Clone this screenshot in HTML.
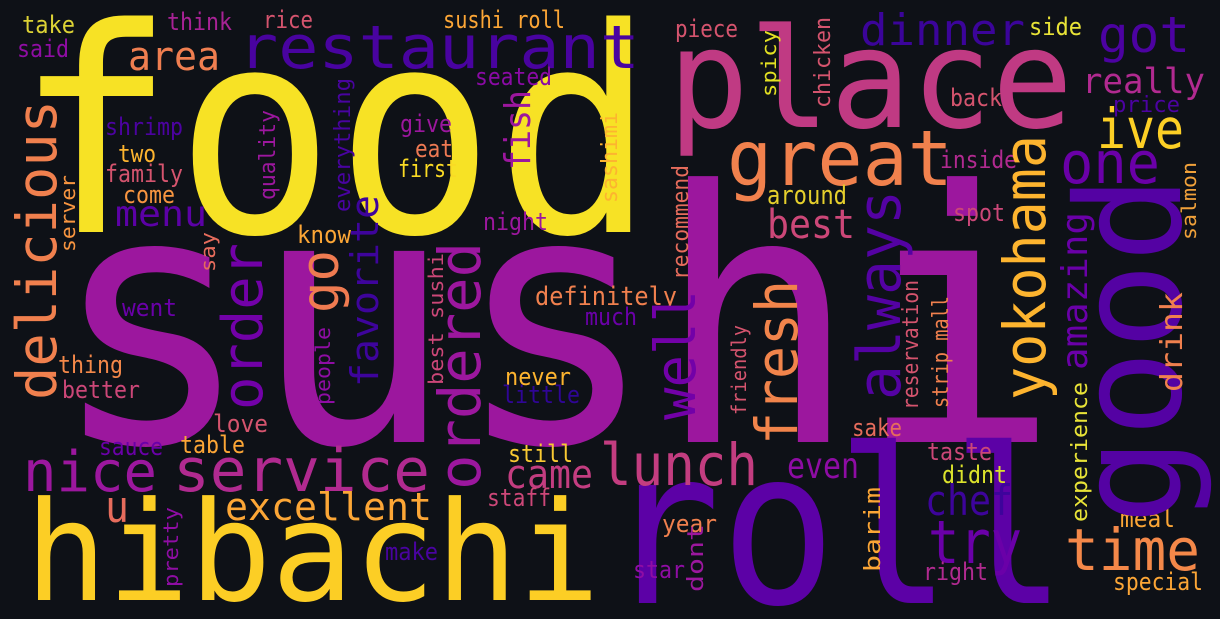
<!DOCTYPE html>
<html><head><meta charset="utf-8"><style>
html,body{margin:0;padding:0;background:#0e1117;width:1220px;height:619px;overflow:hidden;}
svg{display:block;}
text{font-family:"DejaVu Sans Mono","Liberation Mono",monospace;}
</style></head><body>
<svg width="1220" height="619" viewBox="0 0 1220 619" xmlns="http://www.w3.org/2000/svg">
<rect width="1220" height="619" fill="#0e1117"/>
<g>
<text x="15" y="232" font-size="285" textLength="640" lengthAdjust="spacingAndGlyphs" fill="#f7e225">food</text>
<text x="50" y="442" font-size="350" textLength="1010" lengthAdjust="spacingAndGlyphs" fill="#9c179e">sushi</text>
<text x="605" y="603" font-size="216" textLength="462" lengthAdjust="spacingAndGlyphs" fill="#5c01a6">roll</text>
<text x="668" y="127" font-size="138" textLength="405" lengthAdjust="spacingAndGlyphs" fill="#c03a83">place</text>
<text x="25" y="600" font-size="138" textLength="575" lengthAdjust="spacingAndGlyphs" fill="#fcce25">hibachi</text>
<text x="238" y="68" font-size="60" textLength="402" lengthAdjust="spacingAndGlyphs" fill="#4903a0">restaurant</text>
<text x="727" y="185" font-size="77" textLength="226" lengthAdjust="spacingAndGlyphs" fill="#f1814d">great</text>
<text x="23" y="491" font-size="56" textLength="134" lengthAdjust="spacingAndGlyphs" fill="#9c179e">nice</text>
<text x="173" y="491" font-size="60" textLength="257" lengthAdjust="spacingAndGlyphs" fill="#b12a90">service</text>
<text x="600" y="485" font-size="58" textLength="158" lengthAdjust="spacingAndGlyphs" fill="#c33d80">lunch</text>
<text x="1065" y="570" font-size="58" textLength="135" lengthAdjust="spacingAndGlyphs" fill="#f48849">time</text>
<text x="225" y="520" font-size="38" textLength="207" lengthAdjust="spacingAndGlyphs" fill="#fca636">excellent</text>
<text x="105" y="522" font-size="44" textLength="24" lengthAdjust="spacingAndGlyphs" fill="#e66c5c">u</text>
<text x="505" y="488" font-size="40" textLength="88" lengthAdjust="spacingAndGlyphs" fill="#c33d80">came</text>
<text x="787" y="478" font-size="36" textLength="72" lengthAdjust="spacingAndGlyphs" fill="#8e0ca4">even</text>
<text x="925" y="515" font-size="42" textLength="88" lengthAdjust="spacingAndGlyphs" fill="#3d049b">chef</text>
<text x="928" y="563" font-size="60" textLength="94" lengthAdjust="spacingAndGlyphs" fill="#6a00a8">try</text>
<text x="1097" y="148" font-size="55" textLength="87" lengthAdjust="spacingAndGlyphs" fill="#fccf25">ive</text>
<text x="1060" y="183" font-size="58" textLength="100" lengthAdjust="spacingAndGlyphs" fill="#6a00a8">one</text>
<text x="1098" y="52" font-size="50" textLength="92" lengthAdjust="spacingAndGlyphs" fill="#4c02a1">got</text>
<text x="1082" y="93" font-size="35" textLength="123" lengthAdjust="spacingAndGlyphs" fill="#b12a90">really</text>
<text x="1113" y="112" font-size="22" textLength="67" lengthAdjust="spacingAndGlyphs" fill="#4c02a1">price</text>
<text x="860" y="45" font-size="44" textLength="165" lengthAdjust="spacingAndGlyphs" fill="#3b049a">dinner</text>
<text x="128" y="70" font-size="40" textLength="92" lengthAdjust="spacingAndGlyphs" fill="#ef7e50">area</text>
<text x="115" y="226" font-size="36" textLength="92" lengthAdjust="spacingAndGlyphs" fill="#5c01a6">menu</text>
<text x="767" y="238" font-size="40" textLength="88" lengthAdjust="spacingAndGlyphs" fill="#cc4778">best</text>
<text x="767" y="204" font-size="26" textLength="80" lengthAdjust="spacingAndGlyphs" fill="#e5cf2c">around</text>
<text x="950" y="106" font-size="24" textLength="52" lengthAdjust="spacingAndGlyphs" fill="#d5546e">back</text>
<text x="940" y="168" font-size="24" textLength="77" lengthAdjust="spacingAndGlyphs" fill="#b12a90">inside</text>
<text x="953" y="221" font-size="24" textLength="52" lengthAdjust="spacingAndGlyphs" fill="#cc4778">spot</text>
<text x="1029" y="35" font-size="24" textLength="53" lengthAdjust="spacingAndGlyphs" fill="#e8e337">side</text>
<text x="675" y="37" font-size="24" textLength="63" lengthAdjust="spacingAndGlyphs" fill="#d5546e">piece</text>
<text x="443" y="28" font-size="24" textLength="122" lengthAdjust="spacingAndGlyphs" fill="#fca636">sushi roll</text>
<text x="263" y="28" font-size="24" textLength="50" lengthAdjust="spacingAndGlyphs" fill="#d5546e">rice</text>
<text x="167" y="30" font-size="24" textLength="65" lengthAdjust="spacingAndGlyphs" fill="#a82296">think</text>
<text x="22" y="33" font-size="24" textLength="53" lengthAdjust="spacingAndGlyphs" fill="#dcd235">take</text>
<text x="17" y="57" font-size="24" textLength="52" lengthAdjust="spacingAndGlyphs" fill="#8f0da4">said</text>
<text x="105" y="135" font-size="24" textLength="78" lengthAdjust="spacingAndGlyphs" fill="#4c02a1">shrimp</text>
<text x="118" y="162" font-size="24" textLength="38" lengthAdjust="spacingAndGlyphs" fill="#fdb42f">two</text>
<text x="105" y="182" font-size="24" textLength="78" lengthAdjust="spacingAndGlyphs" fill="#d5546e">family</text>
<text x="123" y="203" font-size="24" textLength="52" lengthAdjust="spacingAndGlyphs" fill="#f89540">come</text>
<text x="400" y="132" font-size="24" textLength="52" lengthAdjust="spacingAndGlyphs" fill="#9c179e">give</text>
<text x="415" y="157" font-size="24" textLength="38" lengthAdjust="spacingAndGlyphs" fill="#ed7953">eat</text>
<text x="398" y="177" font-size="24" textLength="60" lengthAdjust="spacingAndGlyphs" fill="#fada24">first</text>
<text x="475" y="85" font-size="24" textLength="77" lengthAdjust="spacingAndGlyphs" fill="#8a0aa5">seated</text>
<text x="297" y="243" font-size="24" textLength="54" lengthAdjust="spacingAndGlyphs" fill="#fca636">know</text>
<text x="483" y="230" font-size="24" textLength="65" lengthAdjust="spacingAndGlyphs" fill="#9c179e">night</text>
<text x="535" y="305" font-size="26" textLength="142" lengthAdjust="spacingAndGlyphs" fill="#f0804e">definitely</text>
<text x="585" y="325" font-size="24" textLength="52" lengthAdjust="spacingAndGlyphs" fill="#6a00a8">much</text>
<text x="122" y="316" font-size="24" textLength="55" lengthAdjust="spacingAndGlyphs" fill="#6a00a8">went</text>
<text x="58" y="373" font-size="24" textLength="65" lengthAdjust="spacingAndGlyphs" fill="#f48849">thing</text>
<text x="62" y="398" font-size="24" textLength="78" lengthAdjust="spacingAndGlyphs" fill="#cc4778">better</text>
<text x="505" y="385" font-size="24" textLength="66" lengthAdjust="spacingAndGlyphs" fill="#fdb42f">never</text>
<text x="502" y="403" font-size="24" textLength="78" lengthAdjust="spacingAndGlyphs" fill="#2f0596">little</text>
<text x="213" y="432" font-size="24" textLength="55" lengthAdjust="spacingAndGlyphs" fill="#d5546e">love</text>
<text x="99" y="455" font-size="24" textLength="64" lengthAdjust="spacingAndGlyphs" fill="#6a00a8">sauce</text>
<text x="180" y="453" font-size="24" textLength="65" lengthAdjust="spacingAndGlyphs" fill="#fca636">table</text>
<text x="508" y="462" font-size="24" textLength="65" lengthAdjust="spacingAndGlyphs" fill="#f8c932">still</text>
<text x="487" y="506" font-size="24" textLength="64" lengthAdjust="spacingAndGlyphs" fill="#cc4778">staff</text>
<text x="385" y="560" font-size="24" textLength="53" lengthAdjust="spacingAndGlyphs" fill="#4903a0">make</text>
<text x="662" y="532" font-size="24" textLength="55" lengthAdjust="spacingAndGlyphs" fill="#f0804e">year</text>
<text x="633" y="578" font-size="24" textLength="52" lengthAdjust="spacingAndGlyphs" fill="#8f0da4">star</text>
<text x="923" y="580" font-size="24" textLength="65" lengthAdjust="spacingAndGlyphs" fill="#b12a90">right</text>
<text x="1113" y="590" font-size="24" textLength="90" lengthAdjust="spacingAndGlyphs" fill="#fca636">special</text>
<text x="1120" y="527" font-size="24" textLength="55" lengthAdjust="spacingAndGlyphs" fill="#fca636">meal</text>
<text x="942" y="483" font-size="24" textLength="65" lengthAdjust="spacingAndGlyphs" fill="#dbe22c">didnt</text>
<text x="927" y="460" font-size="24" textLength="65" lengthAdjust="spacingAndGlyphs" fill="#cc4778">taste</text>
<text x="852" y="436" font-size="24" textLength="50" lengthAdjust="spacingAndGlyphs" fill="#e66c5c">sake</text>
</g>
<g>
<text transform="translate(1180,525) rotate(-90)" font-size="145" textLength="350" lengthAdjust="spacingAndGlyphs" fill="#5402a3">good</text>
<text transform="translate(56,400) rotate(-90)" font-size="55" textLength="300" lengthAdjust="spacingAndGlyphs" fill="#f0804e">delicious</text>
<text transform="translate(262,410) rotate(-90)" font-size="56" textLength="167" lengthAdjust="spacingAndGlyphs" fill="#7201a8">order</text>
<text transform="translate(480,490) rotate(-90)" font-size="58" textLength="248" lengthAdjust="spacingAndGlyphs" fill="#9c179e">ordered</text>
<text transform="translate(378,387) rotate(-90)" font-size="38" textLength="192" lengthAdjust="spacingAndGlyphs" fill="#3e049c">favorite</text>
<text transform="translate(338,313) rotate(-90)" font-size="52" textLength="63" lengthAdjust="spacingAndGlyphs" fill="#ef7b51">go</text>
<text transform="translate(530,170) rotate(-90)" font-size="36" textLength="80" lengthAdjust="spacingAndGlyphs" fill="#9c179e">fish</text>
<text transform="translate(695,420) rotate(-90)" font-size="56" textLength="130" lengthAdjust="spacingAndGlyphs" fill="#7201a8">well</text>
<text transform="translate(797,445) rotate(-90)" font-size="58" textLength="165" lengthAdjust="spacingAndGlyphs" fill="#f1844b">fresh</text>
<text transform="translate(900,400) rotate(-90)" font-size="60" textLength="210" lengthAdjust="spacingAndGlyphs" fill="#5402a3">always</text>
<text transform="translate(1045,400) rotate(-90)" font-size="58" textLength="265" lengthAdjust="spacingAndGlyphs" fill="#fdb42f">yokohama</text>
<text transform="translate(1087,370) rotate(-90)" font-size="36" textLength="158" lengthAdjust="spacingAndGlyphs" fill="#6a00a8">amazing</text>
<text transform="translate(1182,392) rotate(-90)" font-size="30" textLength="100" lengthAdjust="spacingAndGlyphs" fill="#f0804e">drink</text>
<text transform="translate(1087,522) rotate(-90)" font-size="22" textLength="140" lengthAdjust="spacingAndGlyphs" fill="#e8e337">experience</text>
<text transform="translate(1196,240) rotate(-90)" font-size="20" textLength="78" lengthAdjust="spacingAndGlyphs" fill="#f0a13a">salmon</text>
<text transform="translate(776,97) rotate(-90)" font-size="20" textLength="67" lengthAdjust="spacingAndGlyphs" fill="#e3e022">spicy</text>
<text transform="translate(830,108) rotate(-90)" font-size="22" textLength="91" lengthAdjust="spacingAndGlyphs" fill="#d5546e">chicken</text>
<text transform="translate(688,280) rotate(-90)" font-size="22" textLength="115" lengthAdjust="spacingAndGlyphs" fill="#e66c5c">recommend</text>
<text transform="translate(746,415) rotate(-90)" font-size="20" textLength="90" lengthAdjust="spacingAndGlyphs" fill="#d5546e">friendly</text>
<text transform="translate(703,592) rotate(-90)" font-size="22" textLength="68" lengthAdjust="spacingAndGlyphs" fill="#9c179e">dont</text>
<text transform="translate(880,572) rotate(-90)" font-size="22" textLength="85" lengthAdjust="spacingAndGlyphs" fill="#fca636">barim</text>
<text transform="translate(918,410) rotate(-90)" font-size="22" textLength="130" lengthAdjust="spacingAndGlyphs" fill="#d5546e">reservation</text>
<text transform="translate(948,408) rotate(-90)" font-size="22" textLength="112" lengthAdjust="spacingAndGlyphs" fill="#f0804e">strip mall</text>
<text transform="translate(275,200) rotate(-90)" font-size="22" textLength="90" lengthAdjust="spacingAndGlyphs" fill="#9c179e">quality</text>
<text transform="translate(350,212) rotate(-90)" font-size="22" textLength="134" lengthAdjust="spacingAndGlyphs" fill="#4903a0">everything</text>
<text transform="translate(617,203) rotate(-90)" font-size="22" textLength="91" lengthAdjust="spacingAndGlyphs" fill="#fdb42f">sashimi</text>
<text transform="translate(330,405) rotate(-90)" font-size="20" textLength="78" lengthAdjust="spacingAndGlyphs" fill="#8f0da4">people</text>
<text transform="translate(443,385) rotate(-90)" font-size="20" textLength="132" lengthAdjust="spacingAndGlyphs" fill="#cc4778">best sushi</text>
<text transform="translate(75,252) rotate(-90)" font-size="20" textLength="77" lengthAdjust="spacingAndGlyphs" fill="#f89540">server</text>
<text transform="translate(215,272) rotate(-90)" font-size="20" textLength="40" lengthAdjust="spacingAndGlyphs" fill="#e66c5c">say</text>
<text transform="translate(178,587) rotate(-90)" font-size="20" textLength="80" lengthAdjust="spacingAndGlyphs" fill="#8f0da4">pretty</text>
</g>
</svg>
</body></html>
